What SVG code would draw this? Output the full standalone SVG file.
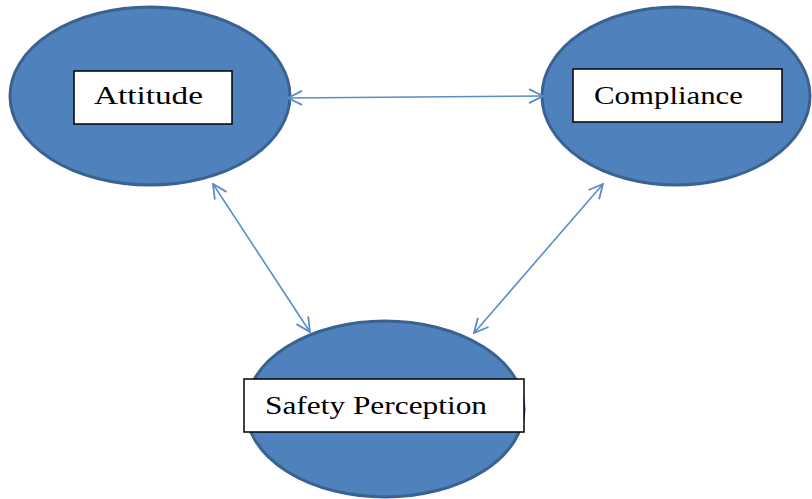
<svg xmlns="http://www.w3.org/2000/svg" width="812" height="499" viewBox="0 0 812 499">
<style>
.node ellipse{fill:#4F81BD;stroke:#3A6291;stroke-width:3}
.node rect{fill:#fff;stroke:#000;stroke-width:1.5}
.node text{font-family:"Liberation Serif","Times New Roman",serif;font-size:26px;fill:#000}
.conn line{stroke:#5B8CC8;stroke-width:1.6;fill:none}
</style>
<defs>
<marker id="ah" viewBox="0 0 16 16" refX="15" refY="8" markerWidth="16" markerHeight="16" markerUnits="userSpaceOnUse" orient="auto-start-reverse">
<path d="M1,1 L15,8 L1,15" fill="none" stroke="#5B8CC8" stroke-width="1.8"/>
</marker>
</defs>
<rect width="812" height="499" fill="#fff"/>
<g id="attitude" class="node">
<ellipse cx="150" cy="96" rx="140" ry="89"/>
<rect x="74" y="71" width="158" height="53"/>
<text x="94" y="104" textLength="109" lengthAdjust="spacingAndGlyphs">Attitude</text>
</g>
<g id="compliance" class="node">
<ellipse cx="676" cy="96" rx="134" ry="89"/>
<rect x="573" y="69" width="209" height="53"/>
<text x="594" y="104" textLength="149" lengthAdjust="spacingAndGlyphs">Compliance</text>
</g>
<g id="safety" class="node">
<ellipse cx="385" cy="409" rx="139" ry="88"/>
<rect x="244" y="379" width="280" height="53"/>
<text x="265" y="414" textLength="222" lengthAdjust="spacingAndGlyphs">Safety Perception</text>
</g>
<g id="connectors" class="conn">
<line x1="288" y1="98" x2="543" y2="96" marker-start="url(#ah)" marker-end="url(#ah)"/>
<line x1="213" y1="184" x2="310" y2="332" marker-start="url(#ah)" marker-end="url(#ah)"/>
<line x1="603" y1="184" x2="474" y2="333" marker-start="url(#ah)" marker-end="url(#ah)"/>
</g>
</svg>
